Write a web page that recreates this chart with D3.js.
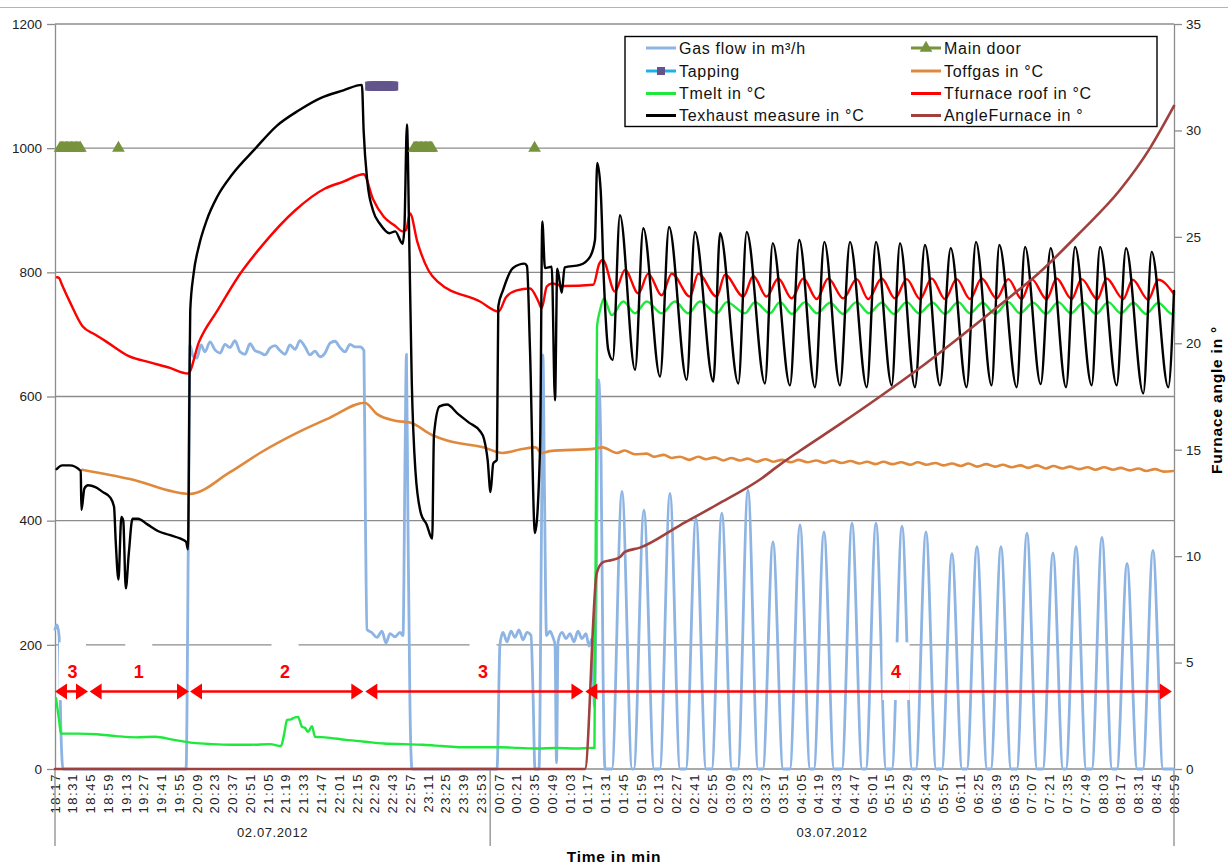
<!DOCTYPE html>
<html><head><meta charset="utf-8">
<script src="https://cdn.jsdelivr.net/npm/d3@7"></script>
<style>
body{margin:0;background:#fff}
text{font-family:"Liberation Sans",Arial,sans-serif}
</style>
</head><body>
<svg id="c" width="1228" height="866"></svg>
<script>
// ---- DATA (time in minutes after 18:17 on 02.07.2012) ----
const timeLabels = ["18:17","18:31","18:45","18:59","19:13","19:27","19:41","19:55","20:09","20:23","20:37","20:51","21:05","21:19","21:33","21:47","22:01","22:15","22:29","22:43","22:57","23:11","23:25","23:39","23:53","00:07","00:21","00:35","00:49","01:03","01:17","01:31","01:45","01:59","02:13","02:27","02:41","02:55","03:09","03:23","03:37","03:51","04:05","04:19","04:33","04:47","05:01","05:15","05:29","05:43","05:57","06:11","06:25","06:39","06:53","07:07","07:21","07:35","07:49","08:03","08:17","08:31","08:45","08:59"];
const labelStepMin = 14;
const dateLabels = ["02.07.2012","03.07.2012"];
const dateBounds = [0, 343, 882];
const leftTicks = [0,200,400,600,800,1000,1200];
const rightTicks = [0,5,10,15,20,25,30,35];

const gasFlow = [[0,225],[1.6,232],[3.2,215],[4.7,60],[6.3,0],[103.3,0],[105.2,400],[106.4,683],[108.8,665],[111.9,662],[115.1,683],[118.2,672],[122.2,688],[126.1,675],[130.1,670],[134.0,684],[137.9,679],[141.9,690],[145.8,672],[149.8,668],[153.7,685],[157.6,674],[161.6,671],[165.5,667],[169.5,678],[173.4,682],[177.3,674],[181.3,668],[185.2,683],[189.2,676],[193.1,690],[197.1,680],[201.0,667],[204.9,673],[208.9,664],[212.8,670],[216.8,686],[220.7,689],[224.6,679],[228.6,672],[232.5,684],[236.5,680],[240.4,680],[243.5,674],[244.7,400],[245.9,225],[249.5,220],[253.8,212],[257.7,222],[260.9,203],[264.0,218],[268.0,213],[271.9,220],[274.3,215],[275.9,500],[277.0,668],[278.2,400],[279.8,100],[281.4,0],[348.4,0],[350.7,200],[353.1,220],[356.3,205],[359.4,222],[362.6,212],[365.7,224],[368.9,208],[372.0,220],[375.2,215],[376.8,120],[378.3,0],[381.5,0],[383.5,400],[384.6,667],[385.8,450],[387.4,215],[390.2,222],[392.5,212],[394.1,200],[395.3,10],[396.5,205],[399.6,220],[402.8,210],[405.9,218],[409.1,205],[412.2,222],[415.4,210],[418.5,218],[420.9,198],[423.3,210],[425.2,100],[426.4,250],[428.4,627],[430.4,500],[432.0,150],[433.5,0],
[438.9,0],[446.9,447],[454.9,0],[456.2,0],[464.2,417],[472.2,0],[476.7,0],[484.7,444],[492.7,0],[497.2,0],[505.2,404],[513.2,0],[517.6,0],[525.6,412],[533.6,0],[538.2,0],[546.2,449],[554.2,0],[557.9,0],[565.9,366],[573.9,0],[579.2,0],[587.2,393],[595.2,0],[598.1,0],[606.1,382],[614.1,0],[620.2,0],[628.2,396],[636.2,0],[639.1,0],[647.1,396],[655.1,0],[659.6,0],[667.6,391],[675.6,0],[678.5,0],[686.5,382],[694.5,0],[699.0,0],[707.0,347],[715.0,0],[718.7,0],[726.7,358],[734.7,0],[737.6,0],[745.6,358],[753.6,0],[758.1,0],[766.1,380],[774.1,0],[778.6,0],[786.6,348],[794.6,0],[796.8,0],[804.8,358],[812.8,0],[817.2,0],[825.2,373],[833.2,0],[837.0,0],[845.0,331],[853.0,0],[857.4,0],[865.4,352],[873.4,0],[882,0]];

const tMelt = [[0.8,114],[3.2,79],[4.7,57],[18.1,57],[33.1,56],[48.1,53],[63.8,51],[78.8,52],[93.8,47],[108.8,42],[123.7,40],[138.7,39],[153.7,39],[169.5,40],[178.1,37],[180.5,55],[182.9,79],[186.0,80],[189.2,83],[191.5,84],[194.7,68],[197.1,66],[199.4,60],[202.6,69],[204.9,52],[212.8,51],[229.4,47],[244.3,44],[259.3,41],[275.1,40],[290.1,39],[305.0,37],[320.0,35],[335.0,35],[350.0,35],[364.9,34],[379.9,33],[395.7,34],[410.7,33],[422.5,34],[425.2,34],[427.2,712],[429.6,739],[432.7,758],[438.8,731],[447.9,753],[457.2,734],[466.4,753],[478.2,734],[488.7,753],[499.2,734],[508.4,753],[521.6,734],[529.5,752],[543.9,734],[551.7,752],[563.6,734],[571.4,752],[580.9,733],[591.2,752],[600.6,734],[610.9,751],[621.1,733],[631.9,752],[641.6,734],[651.6,751],[661.3,733],[671.3,752],[681.0,734],[691.8,751],[701.5,733],[712.0,752],[721.2,734],[731.2,751],[740.9,733],[751.4,752],[760.6,734],[771.1,751],[781.1,733],[790.8,752],[800.8,734],[810.5,751],[820.5,733],[830.2,752],[840.2,734],[849.9,751],[859.9,733],[869.6,751],[880.4,733],[882,735]];

const tFurnaceRoof = [[1.6,792],[3.2,791],[5.5,780],[11.8,752],[21.7,713],[31.5,700],[40.7,688],[58.2,665],[74.9,655],[90.6,646],[104.8,637],[113.5,688],[128.2,739],[145.7,797],[163.2,843],[189.4,900],[212.8,935],[227.3,946],[243.3,958],[250.6,918],[259.3,889],[268.0,875],[274.0,866],[276.7,868],[279.8,895],[285.6,849],[294.4,803],[301.6,785],[335.0,753],[349.7,737],[355.5,760],[363.9,771],[374.4,774],[381.0,753],[383.6,742],[387.6,777],[391.5,782],[400.6,778],[424.3,780],[429.0,814],[431.7,820],[441.4,769],[449.3,804],[459.8,766],[467.6,798],[478.2,763],[486.1,798],[500.5,761],[507.0,798],[521.5,761],[528.1,796],[542.5,761],[550.4,794],[560.9,761],[570.1,790],[580.7,758],[589.8,790],[600.4,757],[609.5,790],[621.3,758],[631.9,789],[641.0,757],[651.6,790],[662.1,758],[671.3,789],[681.8,757],[691.0,790],[701.5,757],[710.7,789],[721.2,757],[730.4,790],[742.2,758],[751.4,789],[761.9,757],[769.8,789],[781.6,757],[789.5,790],[801.3,757],[809.2,789],[821.5,757],[828.9,790],[842.0,757],[849.4,788],[861.7,756],[869.6,788],[882,765]];

const tExhaust = [[1.3,483],[5.7,489],[11.5,489],[20.3,480],[20.8,417],[23.2,452],[26.0,457],[31.9,454],[37.8,446],[43.6,437],[46.5,423],[47.9,365],[50.0,305],[52.3,406],[53.8,400],[55.8,291],[58.2,348],[61.1,403],[65.4,403],[72.8,394],[81.5,383],[90.2,377],[99.0,371],[103.3,366],[104.8,354],[105.4,452],[106.0,624],[106.6,739],[109.2,797],[113.5,843],[119.4,883],[128.2,923],[139.8,958],[157.3,998],[174.8,1036],[192.3,1061],[209.7,1081],[227.3,1093],[241.9,1102],[243.3,1027],[246.2,946],[250.6,900],[256.5,877],[263.7,863],[268.1,866],[274.0,846],[275.4,872],[277.4,1038],[279.2,854],[281.2,624],[284.1,480],[288.5,411],[292.9,394],[297.3,371],[298.7,538],[303.1,584],[309.0,587],[317.6,572],[326.3,558],[335.1,544],[338.1,532],[341.0,498],[343.3,446],[345.4,492],[348.3,498],[349.4,745],[353.1,771],[361.0,807],[370.1,814],[372.0,810],[374.4,675],[378.3,380],[382.3,514],[384.1,882],[386.2,807],[391.5,809],[394.1,594],[395.9,806],[399.4,767],[401.7,808],[413.8,812],[421.7,825],[425.6,852],[427.4,976],[430.1,932],[432.7,783],[436.1,675],[439.6,659],
[445.3,892],[457.2,643],[463.7,871],[476.9,632],[484.0,873],[497.9,627],[504.4,865],[518.9,624],[524.2,863],[538.6,621],[545.2,865],[559.6,621],[565.7,847],[579.3,618],[586.6,852],[599.0,615],[606.4,849],[618.7,618],[626.6,849],[639.8,615],[647.1,849],[659.5,618],[666.0,847],[677.8,615],[685.7,844],[697.5,618],[706.0,839],[718.5,615],[725.9,849],[738.2,618],[744.3,844],[758.0,615],[764.6,841],[776.9,620],[784.8,839],[796.9,615],[804.0,841],[817.1,618],[823.7,841],[836.8,618],[844.2,839],[857.8,605],[864.4,833],[877.5,615],[882,770]];

const tOffgas = [[21.3,482],[59.1,467],[106.2,443],[137.9,478],[163.2,511],[192.3,543],[216.8,566],[244.2,590],[253.6,572],[268.0,561],[279.8,558],[297.2,538],[309.0,529],[338.1,518],[352.7,509],[367.3,515],[378.9,518],[383.3,509],[390.2,512],[425.6,516],[431.5,518],[443.0,509],[449,513],[457,507],[466.4,508],[472,503],[480,506],[486,501],[492.6,503],[500,498],[507,503],[513,499],[520,502],[527,497],[533,501],[540,497],[546,500],[553,495],[560,499],[566,495],[573,498],[580,494],[586,498],[593,494],[600,497],[607,493],[613,497],[620,493],[627,496],[634,492],[640,495],[647,491],[653,495],[660,491],[667,494],[674,490],[680,494],[687,490],[694,493],[700,489],[707,492],[714,488],[720,492],[727,487],[734,491],[741,487],[747,490],[754,486],[761,489],[767,485],[774,489],[781,484],[787,488],[794,484],[800,487],[807,483],[814,486],[820,482],[827,486],[834,482],[840,485],[847,481],[854,484],[860,480],[867,483],[874,479],[881.5,480]];

const angleFurnace = [[0,0],[417.7,0],[427.0,9.2],[432.0,9.72],[439.0,9.82],[445.3,9.96],[449.2,10.2],[461.1,10.4],[492.6,11.45],[524.2,12.5],[555.7,13.6],[571.4,14.3],[587.2,14.95],[618.7,16.2],[650.3,17.5],[681.8,18.85],[713.3,20.3],[744.8,21.8],[776.4,23.35],[807.9,25.2],[839.4,27.2],[863.1,29.17],[882,31.15]];

const doorOpenMinutes = [[4,5,6,7,8,9,10,11,12,13,14,15,16,17,18,19,20],[50],[283,284,285,286,287,288,289,290,291,292,293,294,295,296,297],[378]];
const doorValue = 1000;
const tappingMinutes = [248,249,250,251,252,253,254,255,256,257,258,259,260,261,262,263,264,265,266,267];
const tappingValue = 1100;

const phaseNames = ["3","1","2","3","4"];
const phaseStart = [0,27.3,106.4,244.6,418];
const phaseEnd = [26,105.6,243,416.5,880.3];
const phaseLabelAt = [13.8,66,181.3,337.4,662.9];
const phaseArrowValue = 125, phaseLabelValue = 156, phaseBoxTop = 204, phaseBoxBottom = 111;

// ---- STYLE ----
const C = {gas:"#8db4e2", door:"#77933c", tapLine:"#1fb0ea", tapMark:"#64548c", off:"#e0893d", melt:"#1ee83c", roof:"#ff0000", exh:"#000000", ang:"#a0413e"};

const svg = d3.select("#c");
const L = 55, R = 1174, T = 24, B = 769;
const x = d3.scaleLinear().domain([0, 882]).range([L, R]);
const yL = d3.scaleLinear().domain([0, 1200]).range([B, T]);
const yR = d3.scaleLinear().domain([0, 35]).range([B, T]);

svg.append("rect").attr("width",1228).attr("height",866).attr("fill","#fff");
svg.append("line").attr("x1",0).attr("x2",1228).attr("y1",7.5).attr("y2",7.5).attr("stroke","#b4b4b4").attr("stroke-width",1);

// gridlines
svg.append("g").selectAll("line").data(leftTicks.filter(d=>d>0)).join("line")
  .attr("x1",L).attr("x2",R).attr("y1",d=>yL(d)).attr("y2",d=>yL(d))
  .attr("stroke","#8c8c8c").attr("stroke-width",1.3);

// axes
const axL = svg.append("g").attr("transform",`translate(${L},0)`)
  .call(d3.axisLeft(yL).tickValues(leftTicks).tickFormat(d3.format("d")).tickSize(8).tickPadding(5).tickSizeOuter(0));
const axR = svg.append("g").attr("transform",`translate(${R},0)`)
  .call(d3.axisRight(yR).tickValues(rightTicks).tickFormat(d3.format("d")).tickSize(8).tickPadding(4).tickSizeOuter(0));
[axL, axR].forEach(a=>{
  a.selectAll("path,line").attr("stroke","#8c8c8c").attr("stroke-width",1.3);
  a.selectAll("text").attr("font-size",13.5).attr("fill","#222").attr("font-family","Liberation Sans, Arial");
});
svg.append("line").attr("x1",L).attr("x2",R).attr("y1",B).attr("y2",B).attr("stroke","#8c8c8c").attr("stroke-width",1.3);

// x labels
svg.append("g").selectAll("text").data(timeLabels).join("text")
  .attr("transform",(d,i)=>`translate(${x(i*labelStepMin)},773) rotate(-90)`)
  .attr("text-anchor","end").attr("dy","0.35em")
  .attr("font-size",13).attr("letter-spacing",1.6).attr("fill","#222").text(d=>d);

// date group lines and labels
svg.append("g").selectAll("line").data(dateBounds).join("line")
  .attr("x1",d=>x(d)).attr("x2",d=>x(d)).attr("y1",B).attr("y2",846)
  .attr("stroke","#8c8c8c").attr("stroke-width",1.3);
svg.append("g").selectAll("text").data(dateLabels).join("text")
  .attr("x",(d,i)=>(x(dateBounds[i])+x(dateBounds[i+1]))/2).attr("y",837)
  .attr("text-anchor","middle").attr("font-size",13).attr("letter-spacing",0.6).attr("fill","#222").text(d=>d);

svg.append("text").attr("x",614).attr("y",862).attr("text-anchor","middle")
  .attr("font-size",15.5).attr("font-weight","bold").attr("letter-spacing",0.8).text("Time in min");
svg.append("text").attr("transform","translate(1222,400) rotate(-90)").attr("text-anchor","middle")
  .attr("font-size",15.5).attr("font-weight","bold").attr("letter-spacing",0.8).text("Furnace angle in °");

// series
const lineL = d3.line().x(d=>x(d[0])).y(d=>yL(d[1])).curve(d3.curveMonotoneX);
const lineR = d3.line().x(d=>x(d[0])).y(d=>yR(d[1])).curve(d3.curveMonotoneX);
const g = svg.append("g").attr("fill","none").attr("stroke-linejoin","round").attr("stroke-linecap","round");
g.append("path").attr("d",lineL(gasFlow)).attr("stroke",C.gas).attr("stroke-width",2.8);
g.append("path").attr("d",lineL(tOffgas)).attr("stroke",C.off).attr("stroke-width",2.6);
g.append("path").attr("d",lineL(tMelt)).attr("stroke",C.melt).attr("stroke-width",2.4);
g.append("path").attr("d",lineL(tFurnaceRoof)).attr("stroke",C.roof).attr("stroke-width",2.4);
g.append("path").attr("d",lineL(tExhaust)).attr("stroke",C.exh).attr("stroke-width",2.4);
g.append("path").attr("d",lineR(angleFurnace)).attr("stroke",C.ang).attr("stroke-width",2.6);

// main door markers
const tri = d3.symbol().type(d3.symbolTriangle).size(70);
doorOpenMinutes.forEach(run=>{
  g.append("path").attr("d",d3.line()(run.map(m=>[x(m),yL(doorValue)]))).attr("stroke",C.door).attr("stroke-width",2.4);
  svg.append("g").selectAll("path").data(run).join("path")
    .attr("transform",m=>`translate(${x(m)},${yL(doorValue)})`).attr("d",tri).attr("fill",C.door);
});
// tapping markers
g.append("path").attr("d",d3.line()(tappingMinutes.map(m=>[x(m),yL(tappingValue)]))).attr("stroke",C.tapLine).attr("stroke-width",2.4);
svg.append("g").selectAll("rect").data(tappingMinutes).join("rect")
  .attr("x",m=>x(m)-4.5).attr("y",yL(tappingValue)-4.5).attr("width",9).attr("height",9).attr("fill",C.tapMark);

// phase annotations
const ann = svg.append("g");
ann.selectAll("rect").data(phaseLabelAt).join("rect")
  .attr("x",d=>x(d)-13.5).attr("width",27).attr("y",yL(phaseBoxTop)).attr("height",yL(phaseBoxBottom)-yL(phaseBoxTop)).attr("fill","#fff");
const ay = yL(phaseArrowValue);
phaseStart.forEach((s,i)=>{
  const a = x(s), b = x(phaseEnd[i]);
  ann.append("line").attr("x1",a+6).attr("x2",b-6).attr("y1",ay).attr("y2",ay).attr("stroke","#ff0000").attr("stroke-width",2.5);
  ann.append("path").attr("d",`M${a},${ay}L${a+12},${ay-8}L${a+12},${ay+8}Z`).attr("fill","#ff0000");
  ann.append("path").attr("d",`M${b},${ay}L${b-12},${ay-8}L${b-12},${ay+8}Z`).attr("fill","#ff0000");
});
ann.selectAll("text").data(phaseNames).join("text")
  .attr("x",(d,i)=>x(phaseLabelAt[i])).attr("y",yL(phaseLabelValue)).attr("dy","0.35em")
  .attr("text-anchor","middle").attr("font-size",18).attr("font-weight","bold").attr("fill","#ff0000").text(d=>d);

// legend
const lg = svg.append("g");
lg.append("rect").attr("x",625).attr("y",36.5).attr("width",532).attr("height",90).attr("fill","#fff").attr("stroke","#000").attr("stroke-width",1.4);
const legendItems = [
  {name:"Gas flow in m³/h", c:C.gas, col:0, row:0},
  {name:"Main door", c:C.door, col:1, row:0, mark:"tri"},
  {name:"Tapping", c:C.tapLine, col:0, row:1, mark:"sq"},
  {name:"Toffgas in °C", c:C.off, col:1, row:1},
  {name:"Tmelt in °C", c:C.melt, col:0, row:2},
  {name:"Tfurnace roof in °C", c:C.roof, col:1, row:2},
  {name:"Texhaust measure in °C", c:C.exh, col:0, row:3},
  {name:"AngleFurnace in °", c:C.ang, col:1, row:3}
];
const rowsY = [48, 71, 93.5, 115.5], colX = [646, 911];
legendItems.forEach(it=>{
  const x0 = colX[it.col], yy = rowsY[it.row];
  lg.append("line").attr("x1",x0).attr("x2",x0+30).attr("y1",yy).attr("y2",yy).attr("stroke",it.c).attr("stroke-width",3);
  if (it.mark==="tri") lg.append("path").attr("transform",`translate(${x0+15},${yy})`).attr("d",tri).attr("fill",C.door);
  if (it.mark==="sq") lg.append("rect").attr("x",x0+11).attr("y",yy-4).attr("width",8).attr("height",8).attr("fill",C.tapMark);
  lg.append("text").attr("x",x0+33).attr("y",yy).attr("dy","0.35em").attr("font-size",16).attr("letter-spacing",0.7).attr("fill","#111").text(it.name);
});
</script>
</body></html>
